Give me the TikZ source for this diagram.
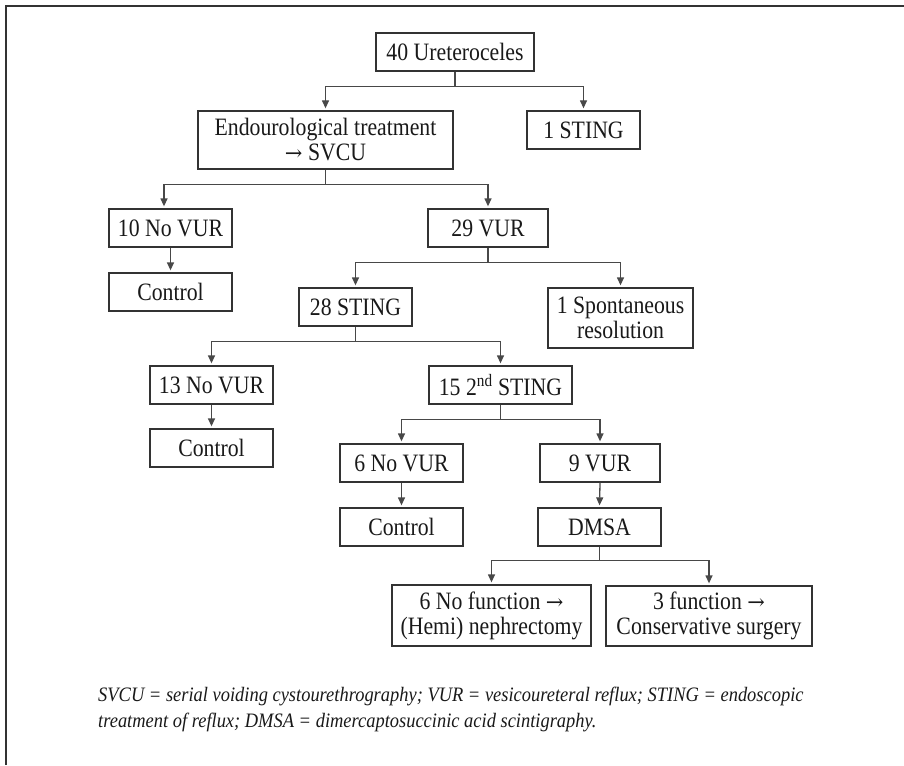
\documentclass[tikz,border=0pt]{standalone}
\usepackage{fontspec}
\setmainfont{Liberation Serif}[FakeStretch=0.87]
\newfontfamily\notefont{Liberation Serif}[FakeStretch=0.9]
\newfontfamily\arrowfont{DejaVu Serif}
\newcommand{\toarrow}{{\arrowfont\fontsize{21}{25}\selectfont →}}
\usetikzlibrary{arrows.meta}
\definecolor{boxgray}{HTML}{333333}
\definecolor{linegray}{HTML}{484848}

\begin{document}
\begin{tikzpicture}[x=1pt,y=-1pt]
\tikzstyle{every node}+=[inner sep=0pt]
\tikzstyle{box}=[draw=boxgray, line width=1.3pt, minimum height=38pt, align=center, text=black!90, font=\fontsize{25}{25}\selectfont]
\tikzstyle{link}=[draw=linegray, line width=1.3pt, -{Triangle[length=8pt,width=7pt]}, shorten >=2pt]
\useasboundingbox (0,0) rectangle (904,765);
\draw [boxgray, line width=1.3pt] (6,765) -- (6,6) -- (904,6);
% boxes
\node [box, minimum width=158pt] (uret) at (455,52) {40 Ureteroceles};
\node [box, minimum width=255pt, minimum height=58pt] (endo) at (325.5,140) {Endourological treatment\\\toarrow{} SVCU};
\node [box, minimum width=113pt] (stingA) at (583.5,130) {1 STING};
\node [box, minimum width=123pt] (novurA) at (170.5,228) {10 No VUR};
\node [box, minimum width=120pt] (vurA) at (488,228) {29 VUR};
\node [box, minimum width=123pt] (ctrlA) at (170.5,292) {Control};
\node [box, minimum width=113pt] (stingB) at (355.5,307) {28 STING};
\node [box, minimum width=145pt, minimum height=60pt] (spont) at (620.5,318) {1 Spontaneous\\resolution};
\node [box, minimum width=123pt] (novurB) at (211.5,385) {13 No VUR};
\node [box, minimum width=143pt] (stingC) at (500.5,385) {15 2\textsuperscript{nd} STING};
\node [box, minimum width=123pt] (ctrlB) at (211.5,448) {Control};
\node [box, minimum width=123pt] (novurC) at (401.5,463) {6 No VUR};
\node [box, minimum width=120pt] (vurC) at (600,463) {9 VUR};
\node [box, minimum width=123pt] (ctrlC) at (401.5,527) {Control};
\node [box, minimum width=123pt] (dmsa) at (599.5,527) {DMSA};
\node [box, minimum width=199pt, minimum height=61pt] (nofunc) at (491.5,615.5) {6 No function \toarrow\\(Hemi) nephrectomy};
\node [box, minimum width=206pt, minimum height=60pt] (func) at (709,616) {3 function \toarrow\\Conservative surgery};
% connectors
\draw [link] (uret.south) -- ++(0,15) -| (endo.north);
\draw [link] (uret.south) -- ++(0,15) -| (stingA.north);
\draw [link] (endo.south) -- ++(0,15) -| ([xshift=-6.5pt]novurA.north);
\draw [link] (endo.south) -- ++(0,15) -| (vurA.north);
\draw [link] (novurA.south) -- (ctrlA.north);
\draw [link] (vurA.south) -- ++(0,15) -| (stingB.north);
\draw [link] (vurA.south) -- ++(0,15) -| (spont.north);
\draw [link] (stingB.south) -- ++(0,15) -| (novurB.north);
\draw [link] (stingB.south) -- ++(0,15) -| (stingC.north);
\draw [link] (novurB.south) -- (ctrlB.north);
\draw [link] (stingC.south) -- ++(0,15) -| (novurC.north);
\draw [link] (stingC.south) -- ++(0,15) -| (vurC.north);
\draw [link] (novurC.south) -- (ctrlC.north);
\draw [link] (vurC.south) -- (dmsa.north);
\draw [link] (dmsa.south) -- ++(0,14) -| (nofunc.north);
\draw [link] (dmsa.south) -- ++(0,14) -| (func.north);
% legend
\node [anchor=north west, align=left, text=black!90, font=\notefont\itshape\fontsize{20.5}{26}\selectfont] (legend) at (98,687) {SVCU = serial voiding cystourethrography; VUR = vesicoureteral reflux; STING = endoscopic\\treatment of reflux; DMSA = dimercaptosuccinic acid scintigraphy.};
\end{tikzpicture}
\end{document}
